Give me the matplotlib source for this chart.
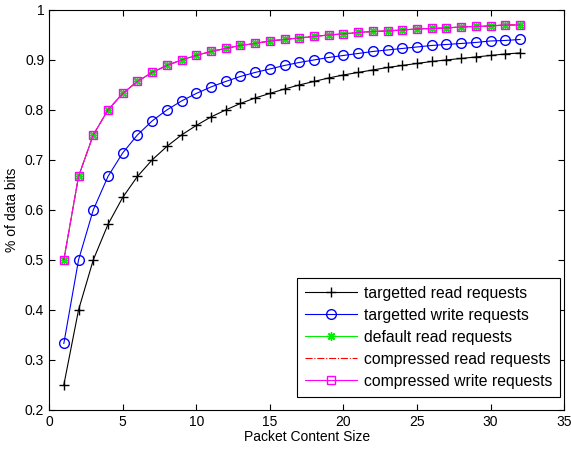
import matplotlib
matplotlib.use("Agg")
import matplotlib.pyplot as plt

plt.rcParams['font.family'] = ['Liberation Sans', 'DejaVu Sans']

sizes = list(range(1, 33))

targ_read = [0.250, 0.400, 0.500, 0.571, 0.625, 0.667, 0.700, 0.727, 0.750, 0.769,
             0.786, 0.800, 0.813, 0.824, 0.833, 0.842, 0.850, 0.857, 0.864, 0.870,
             0.875, 0.880, 0.885, 0.889, 0.893, 0.897, 0.900, 0.903, 0.906, 0.909,
             0.912, 0.914]
targ_write = [0.333, 0.500, 0.600, 0.667, 0.714, 0.750, 0.778, 0.800, 0.818, 0.833,
              0.846, 0.857, 0.867, 0.875, 0.882, 0.889, 0.895, 0.900, 0.905, 0.909,
              0.913, 0.917, 0.920, 0.923, 0.926, 0.929, 0.931, 0.933, 0.935, 0.938,
              0.939, 0.941]
default_read = [0.500, 0.667, 0.750, 0.800, 0.833, 0.857, 0.875, 0.889, 0.900, 0.909,
                0.917, 0.923, 0.929, 0.933, 0.938, 0.941, 0.944, 0.947, 0.950, 0.952,
                0.955, 0.957, 0.958, 0.960, 0.962, 0.963, 0.964, 0.966, 0.967, 0.968,
                0.970, 0.970]
comp_read = list(default_read)
comp_write = list(default_read)

fig = plt.figure(figsize=(5.71, 4.53), dpi=100)
ax = fig.add_axes([0.086, 0.095, 0.902, 0.883])

ax.plot(sizes, targ_read, color='black', marker='+', markersize=7, lw=0.8,
        label='targetted read requests')
ax.plot(sizes, targ_write, color='blue', marker='o', markersize=7, mfc='none', lw=0.8,
        label='targetted write requests')
ax.plot(sizes, default_read, color='#00ee00', marker=(8, 2, 0), markersize=6, lw=0.8,
        mew=1.0, label='default read requests')
ax.plot(sizes, comp_read, color='red', linestyle='-.', lw=0.8,
        label='compressed read requests')
ax.plot(sizes, comp_write, color='magenta', marker='s', markersize=6, mfc='none', lw=0.8,
        label='compressed write requests')

ax.set_xlim(0, 35)
ax.set_ylim(0.2, 1.0)
ax.set_xticks(range(0, 36, 5))
ax.set_yticks([0.2, 0.3, 0.4, 0.5, 0.6, 0.7, 0.8, 0.9, 1.0])
ax.set_yticklabels(['0.2', '0.3', '0.4', '0.5', '0.6', '0.7', '0.8', '0.9', '1'])
ax.tick_params(direction='in', top=True, right=True, labelsize=10, length=4)
ax.set_xlabel('Packet Content Size', fontsize=10, labelpad=1)
ax.set_ylabel('% of data bits', fontsize=10)

leg = ax.legend(loc='lower right', bbox_to_anchor=(0.992, 0.033), fontsize=11.3,
                fancybox=False, framealpha=1, edgecolor='black',
                handlelength=3.3, handletextpad=0.45, borderaxespad=0,
                labelspacing=0.45, borderpad=0.5)
leg.get_frame().set_linewidth(0.8)

fig.savefig('out.png', dpi=100)
